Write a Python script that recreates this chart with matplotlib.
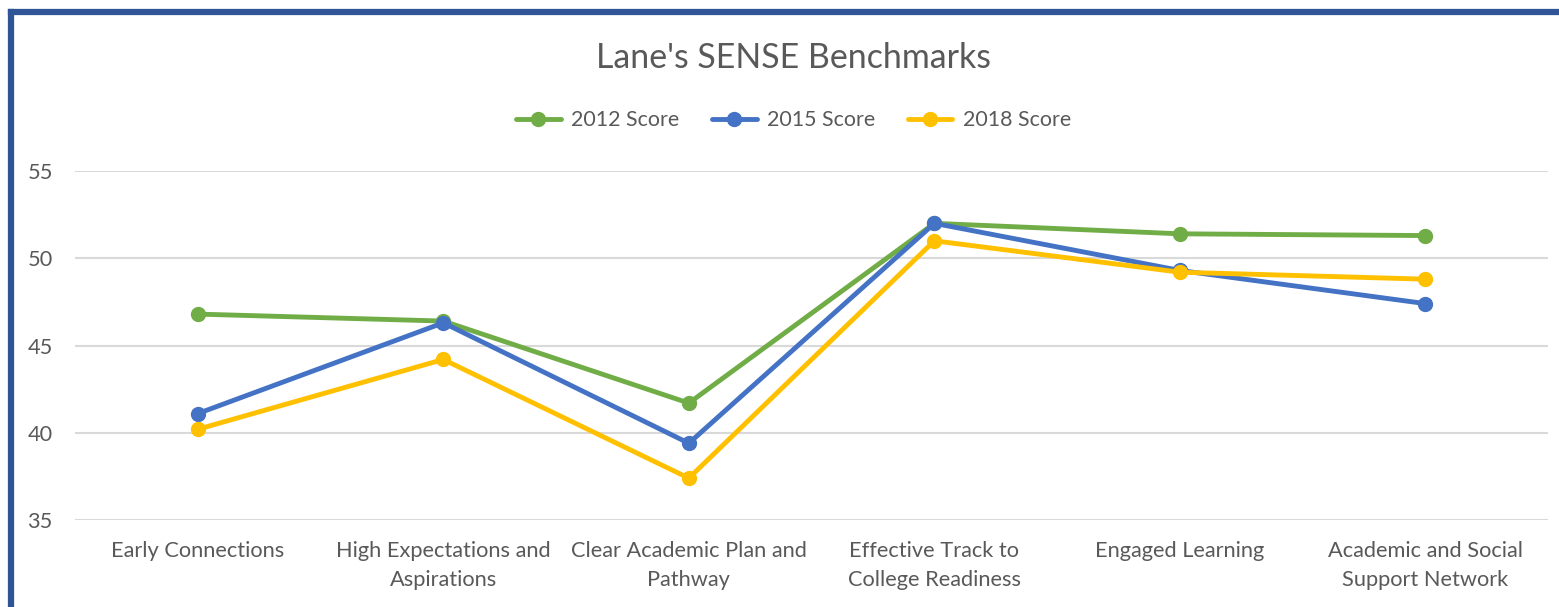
import matplotlib.pyplot as plt
from matplotlib.lines import Line2D

categories = [
    "Early Connections",
    "High Expectations and\nAspirations",
    "Clear Academic Plan and\nPathway",
    "Effective Track to\nCollege Readiness",
    "Engaged Learning",
    "Academic and Social\nSupport Network",
]
score_2012 = [46.8, 46.4, 41.7, 52.0, 51.4, 51.3]
score_2015 = [41.1, 46.3, 39.4, 52.0, 49.3, 47.4]
score_2018 = [40.2, 44.2, 37.4, 51.0, 49.2, 48.8]
y_ticks = [35, 40, 45, 50, 55]

series = [
    ("2012 Score", score_2012, "#70AD47"),
    ("2015 Score", score_2015, "#4472C4"),
    ("2018 Score", score_2018, "#FFC000"),
]

plt.rcParams['font.family'] = ['Lato', 'DejaVu Sans']
text_color = '#595959'

fig = plt.figure(figsize=(15.59, 6.07), dpi=100)
ax = fig.add_axes([0.0481, 0.1433, 0.945, 0.575])

x = range(len(categories))
for label, vals, color in series:
    ax.plot(x, vals, color=color, linewidth=3.5, marker='o', markersize=10,
            label=label, solid_capstyle='round')

ax.set_xlim(-0.5, len(categories) - 0.5)
ax.set_ylim(35, 55)
ax.set_yticks(y_ticks)
ax.set_xticks(list(x))
ax.set_xticklabels(categories, fontsize=15.7, color=text_color, linespacing=1.6)
ax.tick_params(axis='y', labelsize=15.7, labelcolor=text_color, length=0, pad=16)
ax.tick_params(axis='x', length=0, pad=15)
ax.grid(axis='y', color='#D9D9D9', linewidth=1.5)
ax.set_axisbelow(True)
for s in ax.spines.values():
    s.set_visible(False)

fig.text(0.509, 0.905, "Lane's SENSE Benchmarks", ha='center', va='center',
         fontsize=24.4, color=text_color)

fig.legend(loc='center', bbox_to_anchor=(0.509, 0.802), ncol=3, frameon=False,
           fontsize=15.4, labelcolor=text_color, handlelength=2.1,
           handletextpad=0.5, columnspacing=1.5)

# dark blue frame along top and left edge
border = '#2F5597'
fig.add_artist(Line2D([0.0071, 1.0], [0.9802, 0.9802], transform=fig.transFigure,
                      color=border, linewidth=4.5))
fig.add_artist(Line2D([0.0071, 0.0071], [0.0, 0.9802], transform=fig.transFigure,
                      color=border, linewidth=4.5))

fig.savefig('out.png', dpi=100)
